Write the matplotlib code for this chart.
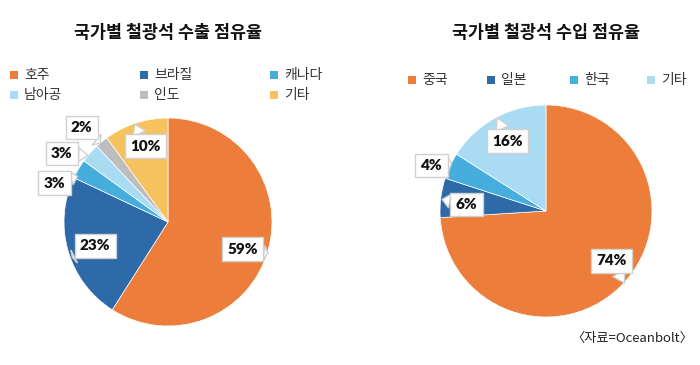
import matplotlib
matplotlib.use("Agg")
import matplotlib.pyplot as plt
from matplotlib.patches import Rectangle

plt.rcParams['font.family'] = ['Noto Sans CJK KR', 'DejaVu Sans']

# export shares (left pie)
exp_names = ['호주', '브라질', '캐나다', '남아공', '인도', '기타']
exp_vals = [59, 23, 3, 3, 2, 10]
exp_colors = ['#ED7D3A', '#2E6AA8', '#45AEDD', '#A9DCF2', '#BDBDBD', '#F5C25E']

# import shares (right pie)
imp_names = ['중국', '일본', '한국', '기타']
imp_vals = [74, 6, 4, 16]
imp_colors = ['#ED7D3A', '#2E6AA8', '#45AEDD', '#A9DCF2']

W, H = 700, 365
fig = plt.figure(figsize=(7, 3.65), dpi=100)


def pie_axes(cx, cy, r):
    # pie centre / radius given in pixels from top-left
    ax = fig.add_axes([(cx - r) / W, (H - cy - r) / H, 2 * r / W, 2 * r / H])
    ax.axis('off')
    return ax


def fix_limits(ax):
    ax.set_xlim(-1, 1)
    ax.set_ylim(-1, 1)
    ax.set_aspect('equal')


def labels(ax, vals, text_pos, tail_pos):
    for v, tp, tail in zip(vals, text_pos, tail_pos):
        ax.annotate(f'{v}%', xy=tail, xytext=tp, ha='center', va='center',
                    fontsize=11, fontweight='heavy', color='#111111',
                    family=['Lato', 'DejaVu Sans'],
                    bbox=dict(boxstyle='square,pad=0.35', fc='white', ec='#d0d0d0', lw=1),
                    arrowprops=dict(arrowstyle='wedge,tail_width=0.9,shrink_factor=0.5',
                                    fc='white', ec='#d0d0d0', lw=1,
                                    shrinkA=0, shrinkB=0),
                    annotation_clip=False, zorder=5)


def legend(names, colors, xs, ys):
    for n, c, x, y in zip(names, colors, xs, ys):
        fig.add_artist(Rectangle((x / W, (H - y - 4) / H), 8 / W, 8 / H,
                                 transform=fig.transFigure, fc=c, ec='none'))
        fig.text((x + 14) / W, (H - y) / H, n, fontsize=10, color='#333333',
                 ha='left', va='center')


# left pie
ax1 = pie_axes(168, 222, 104)
ax1.pie(exp_vals, colors=exp_colors, startangle=90, counterclock=False, radius=1,
        wedgeprops=dict(edgecolor='white', linewidth=0.5))
fix_limits(ax1)
labels(ax1, exp_vals,
       [(0.72, -0.26), (-0.70, -0.23), (-1.09, 0.375), (-1.02, 0.66), (-0.83, 0.91), (-0.22, 0.73)],
       [(0.96, -0.30), (-0.92, -0.34), (-0.87, 0.44), (-0.77, 0.64), (-0.65, 0.76), (-0.32, 0.94)])

# right pie
ax2 = pie_axes(546, 211, 106)
ax2.pie(imp_vals, colors=imp_colors, startangle=90, counterclock=False, radius=1,
        wedgeprops=dict(edgecolor='white', linewidth=0.5))
fix_limits(ax2)
labels(ax2, imp_vals,
       [(0.62, -0.47), (-0.75, 0.06), (-1.08, 0.43), (-0.36, 0.66)],
       [(0.74, -0.68), (-0.98, 0.11), (-0.89, 0.45), (-0.46, 0.88)])

# titles
fig.text(168 / W, (H - 33) / H, '국가별 철광석 수출 점유율', ha='center', va='center',
         fontsize=12.5, fontweight='bold', color='#111111')
fig.text(546 / W, (H - 33) / H, '국가별 철광석 수입 점유율', ha='center', va='center',
         fontsize=12.5, fontweight='bold', color='#111111')

# legends
legend(exp_names, exp_colors, [10, 140, 270, 10, 140, 270], [75, 75, 75, 95, 95, 95])
legend(imp_names, imp_colors, [408, 487, 570, 647], [80, 80, 80, 80])

fig.text(693 / W, (H - 338) / H, '〈자료=Oceanbolt〉', ha='right', va='center',
         fontsize=9.5, color='#222222')

fig.savefig('out.png', dpi=100, facecolor='white')
